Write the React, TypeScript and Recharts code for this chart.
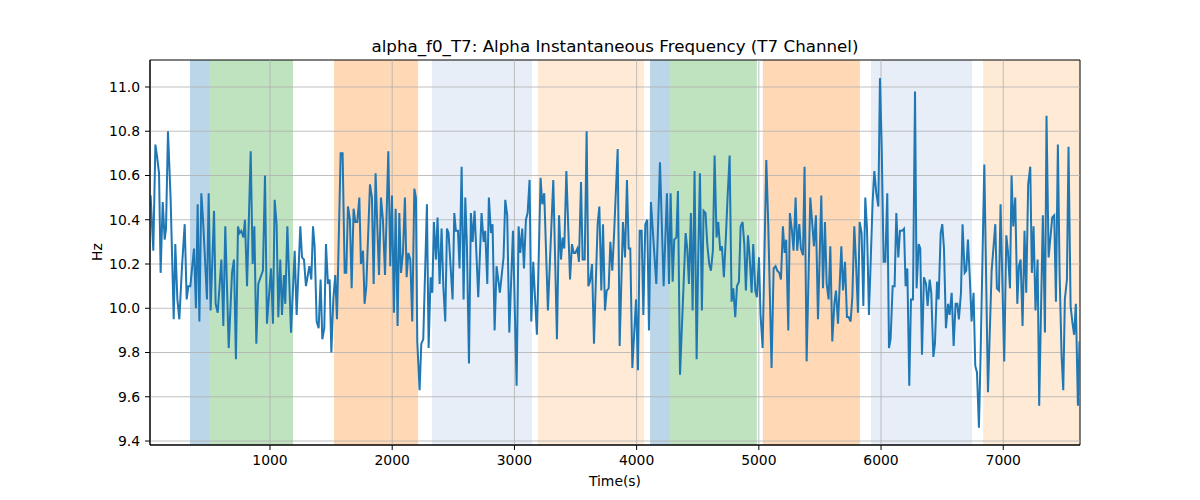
import { LineChart, Line, XAxis, YAxis, ReferenceArea, ReferenceLine } from 'recharts';

// sample times (s)
const sampleTimes = [
  23, 45, 62, 75, 92, 105, 122, 138, 149, 165, 187, 212, 225, 242, 258, 280, 302, 318, 332, 348,
  378, 394, 408, 422, 438, 454, 484, 498, 514, 542, 555, 572, 602, 618, 634, 662, 689, 705, 721, 738,
  751, 765, 782, 795, 812, 842, 858, 872, 888, 904, 942, 959, 975, 1008, 1024, 1038, 1054, 1068, 1084,
  1098, 1114, 1125, 1142, 1172, 1202, 1218, 1248, 1262, 1278, 1294, 1322, 1338, 1352, 1365, 1382, 1398,
  1414, 1428, 1444, 1458, 1474, 1488, 1502, 1518, 1534, 1548, 1578, 1594, 1611, 1624, 1638, 1654, 1668,
  1684, 1698, 1714, 1731, 1744, 1761, 1774, 1788, 1818, 1834, 1848, 1864, 1878, 1892, 1908, 1924, 1941,
  1968, 1984, 1998, 2014, 2028, 2044, 2058, 2072, 2088, 2104, 2118, 2132, 2148, 2164, 2181,
  2194, 2205, 2224, 2238, 2254, 2284, 2298, 2314, 2328, 2341, 2358, 2371, 2388, 2404, 2418, 2434, 2448,
  2461, 2494, 2508, 2521, 2538, 2551, 2568, 2584, 2598, 2611, 2628, 2644, 2658, 2674, 2704, 2731, 2748,
  2761, 2778, 2791, 2808, 2821, 2838, 2854, 2881, 2911, 2925, 2941, 2958, 2988, 3018, 3034, 3048, 3064,
  3078, 3094, 3108, 3124, 3138, 3154, 3184, 3214, 3228, 3244, 3274,
  3318, 3348, 3365, 3381, 3395, 3408, 3425, 3455, 3471, 3485, 3498, 3515, 3528, 3545, 3558, 3575, 3591,
  3605, 3618, 3635, 3651, 3665, 3681, 3695, 3711, 3725, 3741, 3755, 3771, 3785, 3801, 3815, 3845, 3861,
  3888, 3905, 3921, 3935, 3948, 3965, 3995, 4011, 4025, 4041, 4055, 4071, 4087, 4101, 4117, 4161, 4191,
  4221, 4248, 4265, 4278, 4295, 4308, 4325, 4338, 4355,
  4401, 4414, 4428, 4444, 4458, 4474, 4491, 4504, 4518, 4534, 4548, 4564, 4578, 4594, 4608, 4624, 4638,
  4654, 4668, 4684, 4698, 4714, 4731, 4744, 4761, 4777, 4791, 4807, 4821, 4837, 4851, 4867, 4881, 4894,
  4911, 4924, 4941, 4954, 4971, 4984, 5001, 5014, 5031, 5061, 5077, 5104, 5121, 5137, 5151, 5167, 5181,
  5197, 5211, 5224, 5241, 5254, 5271, 5284, 5301, 5314, 5331, 5344, 5361, 5374, 5391, 5421, 5451, 5467,
  5484, 5511, 5525, 5541, 5555, 5571, 5585, 5601, 5618, 5631, 5648, 5661, 5675, 5689, 5705, 5721, 5735,
  5751, 5765, 5781, 5795, 5811, 5825, 5841, 5855, 5871, 5885, 5901, 5931, 5945, 5961, 5978, 5991, 6005,
  6021, 6035, 6051, 6065, 6078, 6095, 6111, 6125, 6141, 6155, 6171, 6188, 6201, 6215, 6231, 6245, 6261,
  6278, 6291, 6308, 6321, 6335, 6351, 6368, 6381, 6398, 6411, 6428, 6441, 6458, 6471, 6488, 6501, 6515,
  6531, 6548, 6561, 6578,
  6594, 6610, 6624, 6637, 6654, 6667, 6684, 6697, 6711, 6727, 6741, 6757, 6771, 6785, 6801, 6815, 6845,
  6875, 6905, 6935, 6948, 6965, 6978, 7008, 7025, 7038, 7055, 7068, 7082, 7098, 7115, 7128, 7142, 7158,
  7174, 7188, 7204, 7221, 7234, 7248, 7264, 7281, 7294, 7324, 7341, 7354, 7371, 7401, 7417, 7431, 7447,
  7461, 7477, 7491, 7504, 7521, 7534, 7551, 7567, 7580, 7594, 7611, 7624,
];

// alpha instantaneous frequency (Hz)
const alphaHz = [
  10.51, 10.26, 10.74, 10.69, 10.61, 10.16, 10.48, 10.31, 10.36, 10.8, 10.49, 9.95, 10.29, 10.04, 9.95, 10.19, 10.38, 10.04, 10.1, 10.1,
  10.27, 10.0, 10.47, 9.94, 10.52, 10.38, 10.04, 10.52, 9.99, 10.44, 10.02, 9.98, 10.22, 9.92, 10.37, 9.82, 10.16, 10.22, 9.77, 10.37,
  10.34, 10.35, 10.32, 10.4, 10.1, 10.71, 10.2, 10.37, 9.84, 10.11, 10.17, 10.6, 9.93, 10.18, 9.93, 10.49, 10.38, 9.96, 10.22,
  9.97, 10.15, 10.02, 10.37, 9.89, 10.26, 9.97, 10.37, 10.23, 10.22, 10.1, 10.19, 10.13, 10.37, 10.28, 9.94, 9.91,
  10.13, 9.86, 9.91, 10.29, 10.11, 10.13, 9.8, 10.04, 10.15, 9.95, 10.7, 10.7, 10.16, 10.16, 10.46, 10.4, 10.09,
  10.45, 10.39, 10.39, 10.5, 10.2, 10.26, 10.02, 10.1, 10.56, 10.5, 10.11, 10.61, 10.37, 10.15, 10.5, 10.4, 10.15,
  10.71, 10.19, 10.51, 9.98, 10.45, 9.92, 10.43, 10.16, 10.25, 10.5, 10.14, 10.25, 10.22, 9.94, 10.54,
  10.5, 9.85, 9.63, 9.84, 9.86, 10.47, 9.82, 10.14, 10.07, 10.39, 10.22, 10.41, 10.11, 10.36, 10.1, 9.94, 10.36,
  10.34, 10.04, 10.43, 10.35, 10.35, 10.18, 10.64, 10.04, 10.5, 10.29, 9.75, 10.43, 10.3, 10.44, 10.05, 10.43, 10.3,
  10.35, 10.11, 10.5, 10.34, 10.38, 9.9, 10.19, 10.07, 10.23, 10.49, 10.42, 9.89, 10.35, 9.65, 10.37, 10.25, 10.36,
  10.18, 10.4, 10.43, 10.58, 9.94, 10.21, 9.88, 10.59, 10.47, 10.52, 9.99,
  10.58, 9.86, 10.42, 10.22, 10.32, 10.27, 10.62, 10.13, 10.29, 10.25, 10.25, 10.27, 10.21, 10.57, 10.22, 10.22, 10.8,
  10.1, 10.12, 10.2, 9.84, 10.1, 10.38, 10.46, 10.08, 10.38, 9.99, 10.08, 10.09, 10.3, 10.17, 10.33, 10.72, 9.83,
  10.39, 10.23, 10.58, 10.27, 10.27, 9.73, 10.04, 9.72, 10.35, 10.35, 9.97, 10.38, 10.4, 9.9, 10.48, 10.11, 10.66,
  10.1, 10.52, 10.11, 10.52, 10.12, 10.31, 10.32, 10.53, 9.7,
  10.34, 10.27, 10.11, 10.43, 9.99, 10.62, 9.77, 10.23, 10.61, 9.99, 10.44, 10.43, 10.29, 10.2, 10.17, 10.26, 10.69,
  10.32, 10.39, 10.26, 10.28, 10.14, 10.33, 10.5, 10.69, 10.03, 10.09, 9.96, 10.1, 10.12, 10.37, 10.39, 10.29, 10.08,
  10.33, 10.24, 10.07, 10.29, 10.08, 10.05, 10.23, 9.97, 9.82, 10.67, 10.38, 9.73, 10.18, 10.19, 10.17, 10.16, 10.13,
  10.37, 10.25, 10.31, 9.9, 10.43, 10.35, 10.26, 10.5, 10.26, 10.38, 10.27, 10.24, 10.64, 9.76, 10.5, 10.28, 10.42,
  9.95, 10.51, 10.09, 10.39, 10.11, 10.04, 10.28, 9.85, 10.02, 10.08, 9.93, 10.1, 10.28, 10.08, 10.21, 9.96, 9.96,
  9.94, 10.05, 10.37, 10.21, 9.98, 10.39, 10.34, 10.01, 10.5, 10.36, 9.97, 10.48, 10.62, 10.52, 10.46, 11.04, 10.74,
  10.21, 10.21, 10.52, 9.82, 9.86, 10.1, 10.1, 10.43, 10.23, 10.35, 10.35, 10.36, 10.1, 10.18, 9.65, 10.04, 10.04,
  10.98, 10.09, 10.29, 10.27, 9.79, 10.14, 10.11, 10.01, 10.13, 10.07, 9.78, 9.84, 10.12, 10.04, 10.34, 10.38, 10.27,
  9.91, 10.02, 9.97, 10.07,
  9.83, 10.02, 10.02, 9.95, 10.07, 10.38, 10.16, 10.17, 10.31, 10.13, 9.94, 10.07, 9.74, 9.71, 9.46, 9.8, 10.65,
  9.62, 10.17, 10.38, 10.09, 10.08, 10.47, 9.76, 10.33, 10.26, 10.09, 10.6, 10.37, 10.5, 10.02, 10.19, 10.22, 9.92,
  10.35, 10.07, 10.56, 10.64, 10.16, 10.37, 9.99, 10.22, 9.56, 10.42, 9.89, 10.87, 10.23, 10.41, 10.42, 10.03, 10.74,
  10.16, 9.79, 9.63, 10.04, 10.13, 10.73, 10.01, 9.93, 9.88, 10.02, 9.56, 9.85,
];

// shaded segments
const spanStart = [345, 501, 1524, 2325, 3192, 4110, 4274, 5033, 5918, 6835];
const spanEnd = [501, 1188, 2212, 3143, 4060, 4274, 4984, 5827, 6745, 7628];
const spanColor = ['#1f77b4', '#2ca02c', '#ff7f0e', '#aec7e8', '#ffbb78', '#1f77b4', '#2ca02c', '#ff7f0e', '#aec7e8', '#ffbb78'];

const xTicks = [1000, 2000, 3000, 4000, 5000, 6000, 7000];
const yTicks = [9.4, 9.6, 9.8, 10.0, 10.2, 10.4, 10.6, 10.8, 11.0];

const X_MIN = 18;
const X_MAX = 7628;
const Y_MIN = 9.382;
const Y_MAX = 11.122;

const data = sampleTimes.map((t, i) => ({ t, hz: alphaHz[i] }));

const font = 'DejaVu Sans, sans-serif';
const tickStyle = { fill: '#000', fontSize: 13.9, fontFamily: font };

export default function App() {
  return (
    <div style={{ position: 'absolute', left: 0, top: 0, width: 1200, height: 500, background: '#fff' }}>
      <LineChart width={1200} height={500} data={data} margin={{ top: 60, right: 120, left: 90, bottom: 25 }}>
        {spanStart.map((s, i) => (
          <ReferenceArea
            key={`span-${i}`}
            x1={s}
            x2={spanEnd[i]}
            y1={Y_MIN}
            y2={Y_MAX}
            fill={spanColor[i]}
            fillOpacity={0.3}
            stroke="none"
            ifOverflow="hidden"
          />
        ))}
        {/* grid drawn above the spans, like matplotlib */}
        {xTicks.map((x) => (
          <ReferenceLine key={`gx-${x}`} x={x} stroke="#b0b0b0" strokeWidth={0.8} />
        ))}
        {yTicks.map((y) => (
          <ReferenceLine key={`gy-${y}`} y={y} stroke="#b0b0b0" strokeWidth={0.8} />
        ))}
        <XAxis
          dataKey="t"
          type="number"
          domain={[X_MIN, X_MAX]}
          ticks={xTicks}
          allowDataOverflow
          height={30}
          tickSize={5}
          tickMargin={5}
          tick={tickStyle}
          axisLine={{ stroke: '#000', strokeWidth: 1 }}
          tickLine={{ stroke: '#000' }}
        />
        <YAxis
          type="number"
          domain={[Y_MIN, Y_MAX]}
          ticks={yTicks}
          allowDataOverflow
          width={60}
          tickSize={5}
          tickMargin={5}
          tick={tickStyle}
          tickFormatter={(v: number) => v.toFixed(1)}
          axisLine={{ stroke: '#000', strokeWidth: 1 }}
          tickLine={{ stroke: '#000' }}
        />
        <Line
          type="linear"
          dataKey="hz"
          stroke="#1f77b4"
          strokeWidth={2}
          dot={false}
          activeDot={false}
          isAnimationActive={false}
        />
        <ReferenceArea x1={X_MIN} x2={X_MAX} y1={Y_MIN} y2={Y_MAX} fill="none" stroke="#000" strokeWidth={1} ifOverflow="visible" />
      </LineChart>
      <svg width={1200} height={500} style={{ position: 'absolute', left: 0, top: 0, pointerEvents: 'none' }}>
        <text x={615} y={52} textAnchor="middle" fontFamily={font} fontSize={16.7} fill="#000">
          alpha_f0_T7: Alpha Instantaneous Frequency (T7 Channel)
        </text>
        <text x={615} y={486} textAnchor="middle" fontFamily={font} fontSize={13.9} fill="#000">
          Time(s)
        </text>
        <text x={102} y={252} textAnchor="middle" fontFamily={font} fontSize={13.9} fill="#000" transform="rotate(-90 102 252)">
          Hz
        </text>
      </svg>
    </div>
  );
}
